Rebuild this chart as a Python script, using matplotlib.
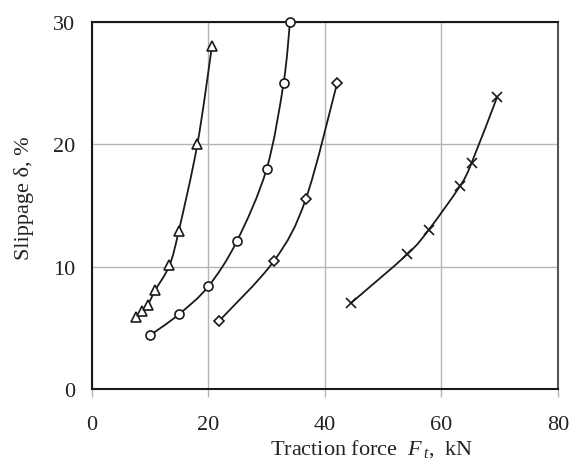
import matplotlib.pyplot as plt
from matplotlib.path import Path
from matplotlib.patches import PathPatch
import numpy as np

plt.rcParams['font.family'] = ['Liberation Serif', 'DejaVu Serif']
plt.rcParams['mathtext.fontset'] = 'custom'
plt.rcParams['mathtext.it'] = 'Liberation Serif:italic'
plt.rcParams['mathtext.rm'] = 'Liberation Serif'

# data
tri_x = [7.5, 8.6, 9.6, 10.9, 13.3, 14.9, 18.1, 20.6]
tri_y = [5.9, 6.4, 6.9, 8.1, 10.1, 12.9, 20.0, 28.0]

circ_x = [10.0, 14.9, 20.0, 24.9, 30.0, 32.9, 34.0]
circ_y = [4.4, 6.1, 8.4, 12.1, 18.0, 25.0, 30.0]

diam_x = [21.9, 31.3, 36.7, 42.1]
diam_y = [5.6, 10.5, 15.5, 25.0]

cross_x = [44.4, 54.1, 57.8, 63.2, 65.2, 69.6]
cross_y = [7.0, 11.0, 13.0, 16.6, 18.5, 23.9]

x_ticks = [0, 20, 40, 60, 80]
y_ticks = [0, 10, 20, 30]


# smooth curve through the points (Catmull-Rom as cubic bezier)
def smooth_path(xs, ys):
    pts = np.column_stack([xs, ys])
    verts = [pts[0]]
    codes = [Path.MOVETO]
    n = len(pts)
    for i in range(n - 1):
        p0 = pts[i - 1] if i > 0 else pts[i]
        p1 = pts[i]
        p2 = pts[i + 1]
        p3 = pts[i + 2] if i + 2 < n else pts[i + 1]
        c1 = p1 + (p2 - p0) / 6.0
        c2 = p2 - (p3 - p1) / 6.0
        verts += [c1, c2, p2]
        codes += [Path.CURVE4] * 3
    return Path(verts, codes)


fig = plt.figure(figsize=(5.71, 4.6), dpi=100)
ax = fig.add_axes([0.161, 0.152, 0.816, 0.798])

series = [
    (tri_x, tri_y, '^', 7),
    (circ_x, circ_y, 'o', 6.5),
    (diam_x, diam_y, 'D', 5.3),
    (cross_x, cross_y, 'x', 7),
]
for xs, ys, m, ms in series:
    ax.add_patch(PathPatch(smooth_path(xs, ys), facecolor='none',
                           edgecolor='#1a1a1a', lw=1.3, zorder=3))
    ax.plot(xs, ys, linestyle='none', marker=m, markersize=ms,
            markerfacecolor='white', markeredgecolor='#1a1a1a',
            markeredgewidth=1.2, zorder=4, clip_on=False)

ax.set_xlim(0, 80)
ax.set_ylim(0, 30)
ax.set_xticks(x_ticks)
ax.set_yticks(y_ticks)
ax.grid(True, color='#b4b4b4', lw=1)
ax.set_axisbelow(True)

ax.tick_params(axis='x', length=6, width=1, color='#b4b4b4', direction='out',
               labelsize=16, pad=13, labelcolor='#222222')
ax.tick_params(axis='y', length=0, labelsize=16, pad=12, labelcolor='#222222')

for side in ['left', 'bottom', 'top']:
    ax.spines[side].set_color('#1a1a1a')
    ax.spines[side].set_linewidth(1.5)
ax.spines['right'].set_color('#555555')
ax.spines['right'].set_linewidth(1.5)

ax.set_xlabel(r'Traction force  $F_{\,t}$,  kN', fontsize=16, color='#222222')
ax.set_ylabel('Slippage δ, %', fontsize=16, color='#222222')
ax.xaxis.set_label_coords(0.60, -0.13)
ax.yaxis.set_label_coords(-0.125, 0.523)

fig.savefig('out.png', dpi=100)
